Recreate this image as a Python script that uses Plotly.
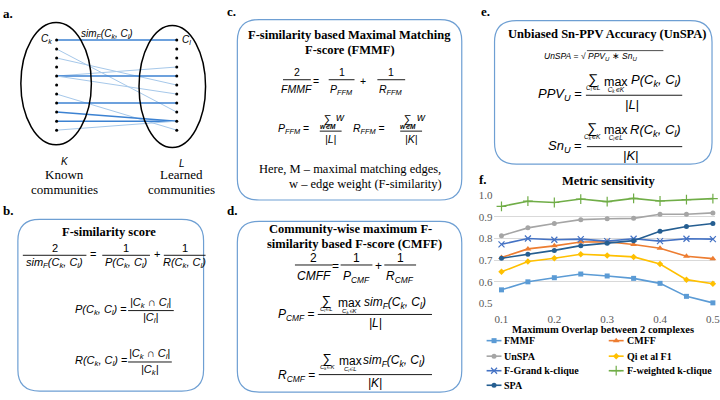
import plotly.graph_objects as go

# ---------------- data ----------------
overlap = [0.1, 0.15, 0.2, 0.25, 0.3, 0.35, 0.4, 0.45, 0.5]
fmmf = [0.563, 0.600, 0.619, 0.636, 0.627, 0.616, 0.593, 0.533, 0.503]
cmff = [0.712, 0.752, 0.766, 0.784, 0.785, 0.772, 0.755, 0.718, 0.707]
unspa = [0.813, 0.849, 0.869, 0.887, 0.891, 0.893, 0.912, 0.912, 0.918]
qi_f1 = [0.646, 0.694, 0.709, 0.727, 0.722, 0.715, 0.682, 0.610, 0.591]
f_grand = [0.773, 0.800, 0.794, 0.797, 0.788, 0.799, 0.788, 0.799, 0.797]
f_weighted = [0.948, 0.972, 0.966, 0.982, 0.970, 0.985, 0.973, 0.979, 0.984]
spa = [0.709, 0.727, 0.745, 0.767, 0.778, 0.790, 0.833, 0.855, 0.869]
series_names = ["FMMF", "CMFF", "UnSPA", "Qi et al F1",
                "F-Grand k-clique", "F-weighted k-clique", "SPA"]
series_values = [fmmf, cmff, unspa, qi_f1, f_grand, f_weighted, spa]
y_ticks = [0.5, 0.6, 0.7, 0.8, 0.9, 1.0]
x_ticks = [0.1, 0.2, 0.3, 0.4, 0.5]

# panel a: bipartite matching diagram (node indices, top to bottom)
n_nodes = 11
edge_left = [0, 1, 2, 4, 4, 4, 6, 7, 8, 9, 10]
edge_right = [0, 8, 5, 3, 4, 6, 10, 7, 9, 9, 9]
edge_strong = [1, 0, 0, 0, 1, 0, 0, 1, 1, 1, 0]

# ---------------- styles ----------------
W, H = 720, 400
SERIF = "Liberation Serif"
SANS = "Liberation Sans"
colors = ["#5B9BD5", "#ED7D31", "#A5A5A5", "#FFC000", "#4472C4", "#70AD47", "#255E91"]
symbols = ["square", "triangle-up", "circle", "diamond", "x-thin", "cross-thin", "circle"]
msizes = [5, 6, 5, 5, 6, 7, 5]
BOX = "#6E9FD3"

fig = go.Figure()
shapes = []
anns = []


def marker_for(i):
    m = dict(symbol=symbols[i], size=msizes[i], color=colors[i])
    if "thin" in symbols[i]:
        m["line"] = dict(color=colors[i], width=1.2)
    return m


# ---------------- panel f chart ----------------
for i, (name, vals) in enumerate(zip(series_names, series_values)):
    fig.add_trace(go.Scatter(
        x=overlap, y=vals, name=name, mode="lines+markers",
        line=dict(color=colors[i], width=1.6), marker=marker_for(i),
        xaxis="x", yaxis="y", showlegend=False, cliponaxis=False))


# ---------------- overlay pixel axes (x2/y2) helpers ----------------
def txt(x, y, s, size=11, font=SANS, xa="center", color="black"):
    anns.append(dict(x=x, y=y, xref="x2", yref="y2", text=s, showarrow=False,
                     xanchor=xa, yanchor="middle", borderpad=0,
                     font=dict(family=font, size=size, color=color)))


def stack(x, y, big, sub, bsize, ssize, base=4.5):
    """big operator (sum / max) with its limit written underneath, as one text."""
    s = (f"<span style='font-size:{bsize}px'>{big}</span><br>"
         f"<span style='font-size:{ssize}px'><i>{sub}</i></span>")
    anns.append(dict(x=x, y=y, xref="x2", yref="y2", text=s, showarrow=False,
                     xanchor="center", yanchor="top", borderpad=0, align="center",
                     font=dict(family=SANS, size=base, color="black")))


def hline(x0, x1, y, color="black", width=0.9):
    shapes.append(dict(type="line", xref="x2", yref="y2", x0=x0, x1=x1, y0=y, y1=y,
                       line=dict(color=color, width=width)))


def frac(cx, ynum, yline, yden, num, den, half, size=11):
    txt(cx, ynum, num, size)
    hline(cx - half, cx + half, yline)
    txt(cx, yden, den, size)


def rrect(x0, y0, x1, y1, r=22):
    p = (f"M {x0+r},{y0} L {x1-r},{y0} Q {x1},{y0} {x1},{y0+r} L {x1},{y1-r} "
         f"Q {x1},{y1} {x1-r},{y1} L {x0+r},{y1} Q {x0},{y1} {x0},{y1-r} "
         f"L {x0},{y0+r} Q {x0},{y0} {x0+r},{y0} Z")
    shapes.append(dict(type="path", path=p, xref="x2", yref="y2",
                       line=dict(color=BOX, width=1.2)))


def title(x, y, s, size=12.5):
    txt(x, y, "<b>" + s + "</b>", size, SERIF)


def label(x, y, s):
    txt(x, y, "<b>" + s + "</b>", 13, SERIF, xa="left")


Ck = "C<sub>k</sub>"
Cl = "C<sub>l</sub>"

# ---------------- panel a ----------------
label(2, 8, "a.")
shapes.append(dict(type="circle", xref="x2", yref="y2", x0=21, x1=92, y0=17, y1=143,
                   line=dict(color="black", width=1.5)))
shapes.append(dict(type="circle", xref="x2", yref="y2", x0=140, x1=207, y0=20, y1=146,
                   line=dict(color="black", width=1.5)))
xl, xr, ytop, ystep = 57, 178, 35, 9.3
for a, b, s in zip(edge_left, edge_right, edge_strong):
    fig.add_trace(go.Scatter(
        x=[xl, xr], y=[ytop + a * ystep, ytop + b * ystep], mode="lines",
        line=dict(color="#3C82D2" if s else "#A6C8EA", width=1.5 if s else 1.0),
        xaxis="x2", yaxis="y2", showlegend=False, hoverinfo="skip"))
node_idx = list(range(n_nodes))
for xx in (xl, xr):
    fig.add_trace(go.Scatter(
        x=[xx] * n_nodes, y=[ytop + k * ystep for k in node_idx], mode="markers",
        marker=dict(color="black", size=3), xaxis="x2", yaxis="y2",
        showlegend=False, hoverinfo="skip"))
txt(53, 34, "<i>" + Ck + "</i>", 10, xa="right")
txt(182, 35, "<i>" + Cl + "</i>", 10, xa="left")
txt(108, 29, "<i>sim<sub>F</sub>(" + Ck + ", " + Cl + ")</i>", 10)
txt(65, 160, "<i>K</i>", 10)
txt(65, 174, "Known", 13, SERIF)
txt(65, 189, "communities", 13, SERIF)
txt(183, 162, "<i>L</i>", 10)
txt(183, 174, "Learned", 13, SERIF)
txt(183, 189, "communities", 13, SERIF)

# ---------------- panel b ----------------
label(2, 211, "b.")
rrect(18, 220, 205, 397)
title(110, 233, "F-similarity score")
frac(55, 249, 257, 265, "2", "<i>sim<sub>F</sub>(" + Ck + ", " + Cl + ")</i>", 32)
txt(94, 256, "=", 11)
frac(127, 249, 257, 265, "1", "<i>P(" + Ck + ", " + Cl + ")</i>", 24)
txt(158, 256, "+", 11)
frac(186, 249, 257, 265, "1", "<i>R(" + Ck + ", " + Cl + ")</i>", 21)
txt(129, 313, "<i>P(" + Ck + ", " + Cl + ")</i> =", 11, xa="right")
frac(152, 306, 314, 322, "<i>|" + Ck + " ∩ " + Cl + "|</i>", "<i>|" + Cl + "|</i>", 23)
txt(129, 366, "<i>R(" + Ck + ", " + Cl + ")</i> =", 11, xa="right")
frac(151, 359, 367, 375, "<i>|" + Ck + " ∩ " + Cl + "|</i>", "<i>|" + Ck + "|</i>", 22)

# ---------------- panel c ----------------
label(228, 6, "c.")
rrect(239, 14, 465, 200)
title(352, 30, "F-similarity based Maximal Matching")
title(352, 45, "F-score (FMMF)")
frac(299, 68, 76, 86, "2", "<i>FMMF</i>", 14, 10.5)
txt(318, 77, "=", 10.5)
frac(344, 68, 76, 87, "1", "<i>P<sub>FFM</sub></i>", 13, 10.5)
txt(366, 77, "+", 10.5)
frac(394, 68, 76, 87, "1", "<i>R<sub>FFM</sub></i>", 14, 10.5)
txt(312, 127, "<i>P<sub>FFM</sub></i> =", 10.5, xa="right")
stack(330, 109, "∑", "<b>w∊M</b>", 11, 6.5)
txt(343, 114, "<i>w</i>", 11)
hline(322, 344, 129)
txt(333, 137, "<i>|L|</i>", 10.5)
txt(389, 127, "<i>R<sub>FFM</sub></i> =", 10.5, xa="right")
stack(411, 109, "∑", "<b>w∊M</b>", 11, 6.5)
txt(424, 114, "<i>w</i>", 11)
hline(403, 425, 129)
txt(414, 137, "<i>|K|</i>", 10.5)
txt(352, 168, "Here, M – maximal matching edges,", 12.5, SERIF)
txt(368, 183, "w – edge weight (F-similarity)", 12.5, SERIF)

# ---------------- panel d ----------------
label(228, 211, "d.")
rrect(239, 222, 465, 398)
title(353, 230, "Community-wise maximum F-")
title(357, 245, "similarity based F-score (CMFF)")
frac(316, 260, 267, 278, "2", "<i>CMFF</i>", 19, 12)
txt(338, 268, "=", 12)
frac(359, 260, 267, 279, "1", "<i>P<sub>CMF</sub></i>", 16, 12)
txt(381, 268, "+", 12)
frac(403, 260, 267, 279, "1", "<i>R<sub>CMF</sub></i>", 16, 12)
simtxt = "<i>sim<sub>F</sub>(" + Ck + ", " + Cl + ")</i>"
# P_CMF
txt(318, 319, "<i>P<sub>CMF</sub></i> =", 12, xa="right")
stack(329, 295, "∑", "C<sub>l</sub>∊L", 13, 6)
stack(352, 298, "max", "C<sub>k</sub>∊K", 12, 6)
txt(366, 306, simtxt, 12, xa="left")
hline(320, 435, 318)
txt(378, 327, "<i>|L|</i>", 12)
# R_CMF
txt(318, 381, "<i>R<sub>CMF</sub></i> =", 12, xa="right")
stack(330, 355, "∑", "C<sub>k</sub>∊K", 13, 6)
stack(353, 358, "max", "C<sub>l</sub>∊L", 12, 6)
txt(365, 366, simtxt, 12, xa="left")
hline(321, 435, 380)
txt(378, 389, "<i>|K|</i>", 12)

# ---------------- panel e ----------------
label(483, 6, "e.")
rrect(498, 15, 717, 163)
title(612, 29, "Unbiased Sn-PPV Accuracy (UnSPA)")
txt(591, 52, "<i>UnSPA</i> = √", 8.5, xa="right")
txt(591, 52, "<i>PPV<sub>U</sub></i> ∗ <i>Sn<sub>U</sub></i>", 8.5, xa="left")
hline(591, 668, 46, width=0.7)
# PPV_U
txt(587, 91, "<i>PPV<sub>U</sub></i> =", 13, xa="right")
stack(598, 66, "∑", "C<sub>l</sub>∊L", 14, 6.5)
stack(620, 70, "max", "C<sub>k</sub>∊K", 12.5, 6.5)
txt(634, 77, "<i>P(" + Ck + ", " + Cl + ")</i>", 13, xa="left")
hline(590, 687, 92)
txt(636, 102, "<i>|L|</i>", 13)
# Sn_U
txt(587, 145, "<i>Sn<sub>U</sub></i> =", 13, xa="right")
stack(597, 117, "∑", "C<sub>k</sub>∊K", 14, 6.5)
stack(620, 120, "max", "C<sub>l</sub>∊L", 12.5, 6.5)
txt(633, 128, "<i>R(" + Ck + ", " + Cl + ")</i>", 13, xa="left")
hline(591, 687, 145)
txt(635, 154, "<i>|K|</i>", 13)

# ---------------- panel f decorations ----------------
label(481, 179, "f.")
title(613, 180, "Metric sensitivity")
txt(607, 333, "<b>Maximum Overlap between 2 complexes</b>", 10.5, SERIF)

legend_cols_x = [490, 613]
legend_rows_y = [345, 361, 376, 391]
for i, name in enumerate(series_names):
    lx = legend_cols_x[i % 2]
    ly = legend_rows_y[i // 2]
    fig.add_trace(go.Scatter(
        x=[lx, lx + 15], y=[ly, ly], mode="lines",
        line=dict(color=colors[i], width=1.6), xaxis="x2", yaxis="y2",
        showlegend=False, hoverinfo="skip"))
    fig.add_trace(go.Scatter(
        x=[lx + 7.5], y=[ly], mode="markers", marker=marker_for(i),
        xaxis="x2", yaxis="y2", showlegend=False, hoverinfo="skip"))
    txt(lx + 17, ly, "<b>" + name + "</b>", 10, SERIF, xa="left")

fig.update_layout(
    width=W, height=H, margin=dict(l=0, r=0, t=0, b=0),
    paper_bgcolor="white", plot_bgcolor="rgba(0,0,0,0)",
    showlegend=False, shapes=shapes, annotations=anns,
    xaxis=dict(domain=[497 / W, 1.0], range=[0.085, 0.504], tickvals=x_ticks,
               tickformat=".1f", showgrid=False, zeroline=False, showline=False,
               ticks="", ticklabelstandoff=8, ticklabeloverflow="allow",
               tickfont=dict(family=SERIF, size=11, color="#595959"),
               anchor="y", fixedrange=True),
    yaxis=dict(domain=[1 - 306.7 / H, 1 - 195 / H], range=[0.5, 1.0], tickvals=y_ticks,
               tickformat=".1f", showgrid=True, gridcolor="#D9D9D9", gridwidth=1,
               zeroline=False, showline=False, ticks="",
               tickfont=dict(family=SERIF, size=11, color="#595959"),
               anchor="x", fixedrange=True),
    xaxis2=dict(domain=[0, 1], range=[0, W], visible=False, anchor="y2", fixedrange=True),
    yaxis2=dict(domain=[0, 1], range=[H, 0], visible=False, anchor="x2", fixedrange=True),
)

fig.write_html("out.html", config={"displayModeBar": False},
               post_script="document.body.style.margin='0';document.body.style.overflow='hidden';")
